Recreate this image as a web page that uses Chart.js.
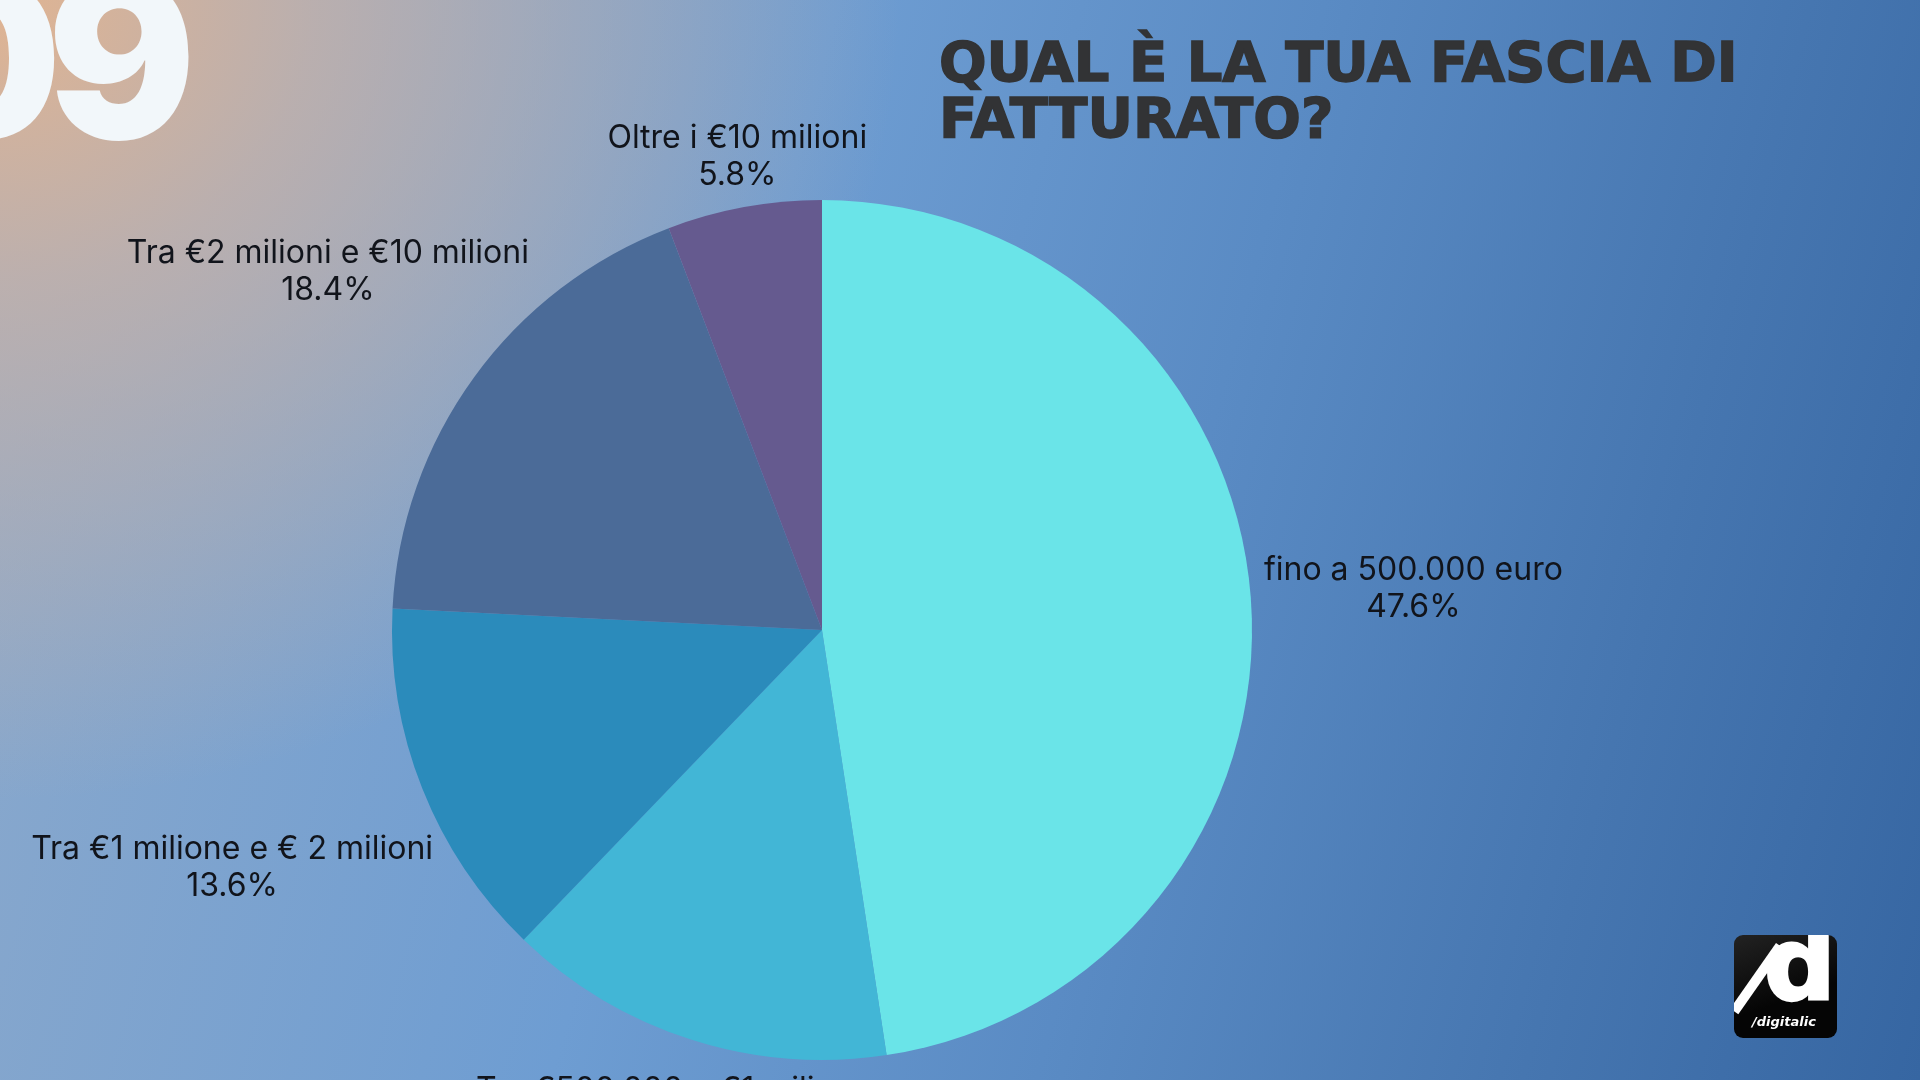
<!DOCTYPE html>
<html lang="it">
<head>
<meta charset="utf-8">
<title>Qual è la tua fascia di fatturato?</title>
<script src="https://cdn.jsdelivr.net/npm/chart.js@4.4.1/dist/chart.umd.min.js"></script>
<style>
  html, body { margin: 0; padding: 0; }
  body {
    width: 1920px; height: 1080px; overflow: hidden; position: relative;
    background:
      radial-gradient(ellipse 900px 800px at 0% 0%, rgba(224,180,146,1) 0%, rgba(204,178,164,0.75) 35%, rgba(160,172,192,0) 100%),
      linear-gradient(105deg, #8eaacb 0%, #6e9dd2 38%, #5a8bc4 60%, #4676b0 82%, #3666a2 100%);
  }
  #chart { position: absolute; left: 0; top: 0; }
  .big-num {
    position: absolute; right: calc(100% - 196px); top: -52px;
    font: 900 220px/220px Inter, sans-serif; color: #f2f7fa; white-space: nowrap;
  }
  .title {
    position: absolute; left: 939px; top: 34px;
    font: bold 56px/56px "DejaVu Sans", sans-serif; color: #323335;
    -webkit-text-stroke: 1.5px #323335;
  }
  .logo {
    position: absolute; left: 1734px; top: 935px; width: 103px; height: 103px;
    border-radius: 9px; background: linear-gradient(160deg, #222 0%, #050505 60%);
    overflow: hidden;
  }
  .logo .d {
    position: absolute; left: 30px; top: -20px;
    font: 900 100px/100px "DejaVu Sans", sans-serif; color: #fff;
    -webkit-text-stroke: 3px #fff;
  }
  .logo .slash {
    position: absolute; top: 8px; left: 42px; width: 10px; height: 80px;
    background: #fff; transform: rotate(35deg); transform-origin: top left;
  }
  .logo .name {
    position: absolute; left: 18px; top: 80px;
    font: italic bold 13px/13px "DejaVu Sans", sans-serif; color: #fff;
  }
</style>
</head>
<body>
<canvas id="chart" width="1920" height="1080"></canvas>
<div class="big-num"><span style="letter-spacing:-14px">0</span>9</div>
<div class="title">QUAL È LA TUA FASCIA DI<br>FATTURATO?</div>
<div class="logo"><div class="slash"></div><div class="d">d</div><div class="name">/digitalic</div></div>

<script>
// data
const categories = [
  "fino a 500.000 euro",
  "Tra €500.000 e €1 milione",
  "Tra €1 milione e € 2 milioni",
  "Tra €2 milioni e €10 milioni",
  "Oltre i €10 milioni"
];
const shares = [47.6, 14.6, 13.6, 18.4, 5.8];
const sliceColors = ["#6ae4e8", "#42b6d6", "#2b8bbb", "#4b6b98", "#655a8f"];

const LINE_H = 37;
const LABEL_GAP = 9;
const TEXT_NUDGE = 3;

// labels outside the pie: box centre sits on the mid-angle ray,
// pushed out until its closest point clears the rim
const outsideLabels = {
  id: "outsideLabels",
  afterDatasetsDraw(chart) {
    const ctx = chart.ctx;
    const meta = chart.getDatasetMeta(0);
    const vals = chart.data.datasets[0].data;
    const total = vals.reduce((a, b) => a + b, 0);
    ctx.save();
    ctx.font = "32px Inter, sans-serif";
    ctx.fillStyle = "#11141b";
    ctx.textAlign = "center";
    ctx.textBaseline = "middle";
    meta.data.forEach((arc, i) => {
      const { x, y, startAngle, endAngle, outerRadius } =
        arc.getProps(["x", "y", "startAngle", "endAngle", "outerRadius"], true);
      const mid = (startAngle + endAngle) / 2;
      const ux = Math.cos(mid), uy = Math.sin(mid);
      const lines = [chart.data.labels[i], (vals[i] / total * 100).toFixed(1) + "%"];
      const w = Math.max(...lines.map(l => ctx.measureText(l).width));
      const h = lines.length * LINE_H;
      const nearest = d => {
        const qx = Math.max(Math.abs(ux * d) - w / 2, 0);
        const qy = Math.max(Math.abs(uy * d) - h / 2, 0);
        return Math.hypot(qx, qy);
      };
      let lo = 0, hi = 3000;
      for (let k = 0; k < 60; k++) {
        const m = (lo + hi) / 2;
        if (nearest(m) < outerRadius + LABEL_GAP) lo = m; else hi = m;
      }
      const bx = x + ux * hi + TEXT_NUDGE, by = y + uy * hi + TEXT_NUDGE;
      lines.forEach((l, j) => {
        ctx.fillText(l, bx, by + (j - (lines.length - 1) / 2) * LINE_H);
      });
    });
    ctx.restore();
  }
};

new Chart(document.getElementById("chart"), {
  type: "pie",
  data: {
    labels: categories,
    datasets: [{
      data: shares,
      backgroundColor: sliceColors,
      borderWidth: 0,
      hoverOffset: 0
    }]
  },
  options: {
    responsive: false,
    devicePixelRatio: 1,
    animation: false,
    layout: { padding: { top: 200, bottom: 20, left: 392, right: 668 } },
    plugins: {
      legend: { display: false },
      tooltip: { enabled: false }
    }
  },
  plugins: [outsideLabels]
});
</script>
</body>
</html>
